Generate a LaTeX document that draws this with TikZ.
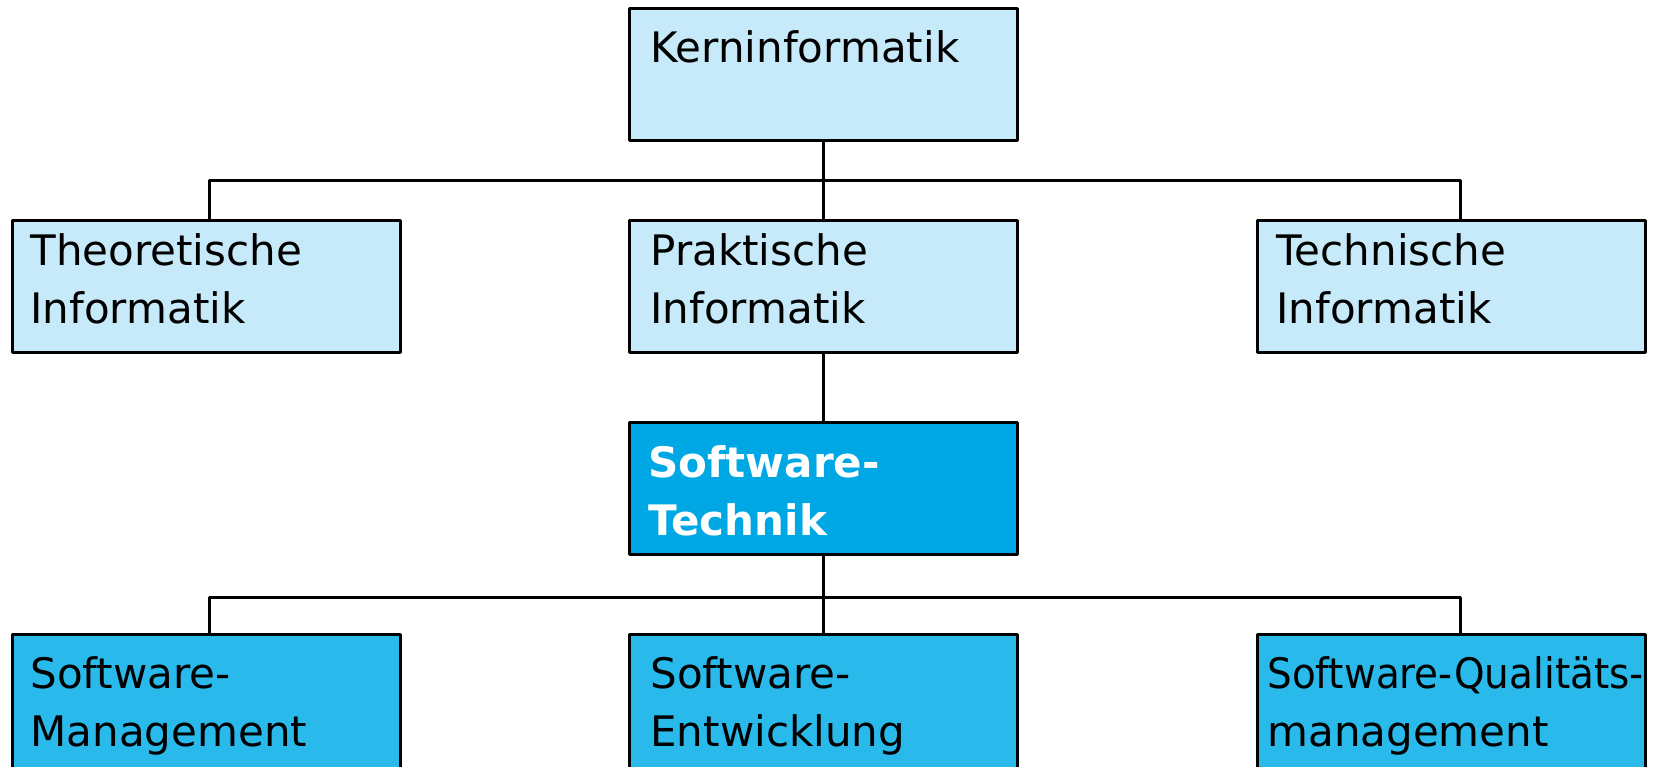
\documentclass[tikz,border=0pt]{standalone}
\usepackage{fontspec}
\setmainfont{DejaVu Sans}
\definecolor{lightbox}{RGB}{198,234,249}
\definecolor{midbox}{RGB}{0,167,229}
\definecolor{lowbox}{RGB}{42,185,235}
\tikzset{
  box/.style={draw=black, line width=1.5pt, line join=round, minimum width=194pt, minimum height=66pt, anchor=north west, inner sep=0pt},
  lowrow/.style={box, minimum height=100pt},
  txt/.style={anchor=base west, align=left, inner sep=0pt, font=\fontsize{21}{29}\selectfont},
  conn/.style={line width=1.5pt, line join=round}
}
\begin{document}
\begin{tikzpicture}[x=0.5pt,y=-0.5pt]
\clip (0,0) rectangle (1657,766);
\fill[white] (0,0) rectangle (1657,766);
% boxes
\node[box, fill=lightbox] (kern) at (628,7) {};
\node[box, fill=lightbox] (theo) at (11,219) {};
\node[box, fill=lightbox] (prak) at (628,219) {};
\node[box, fill=lightbox] (tech) at (1256,219) {};
\node[box, fill=midbox] (swt) at (628,421) {};
\node[lowrow, fill=lowbox] (swm) at (11,633) {};
\node[lowrow, fill=lowbox] (swe) at (628,633) {};
\node[lowrow, fill=lowbox] (swq) at (1256,633) {};
% texts (base anchor = baseline of the last line)
\node[txt] (kernt) at ([shift={(22,55)}]kern.north west) {Kerninformatik};
\node[txt] (theot) at ([shift={(19,104)}]theo.north west) {Theoretische\\Informatik};
\node[txt] (prakt) at ([shift={(22,104)}]prak.north west) {Praktische\\Informatik};
\node[txt] (techt) at ([shift={(20,104)}]tech.north west) {Technische\\Informatik};
\node[txt, text=white, font=\fontsize{21}{29}\selectfont\bfseries] (swtt) at ([shift={(20,114)}]swt.north west) {Software-\\Technik};
\node[txt] (swmt) at ([shift={(19,113)}]swm.north west) {Software-\\Management};
\node[txt] (swet) at ([shift={(22,113)}]swe.north west) {Software-\\Entwicklung};
\node[txt] (swqt) at ([shift={(11,113)}]swq.north west) {\scalebox{0.926}[1]{Software-Qualitäts-}\\management};
% connectors
\coordinate (j1) at (823,180);
\coordinate (j2) at (823,597);
\draw[conn] (kern.south) -- (prak.north);
\draw[conn] ([xshift=1.5pt]theo.north) |- (j1) -| ([xshift=4.5pt]tech.north);
\draw[conn] (prak.south) -- (swt.north);
\draw[conn] (swt.south) -- (swe.north);
\draw[conn] ([xshift=1.5pt]swm.north) |- (j2) -| ([xshift=4.5pt]swq.north);
\end{tikzpicture}
\end{document}
